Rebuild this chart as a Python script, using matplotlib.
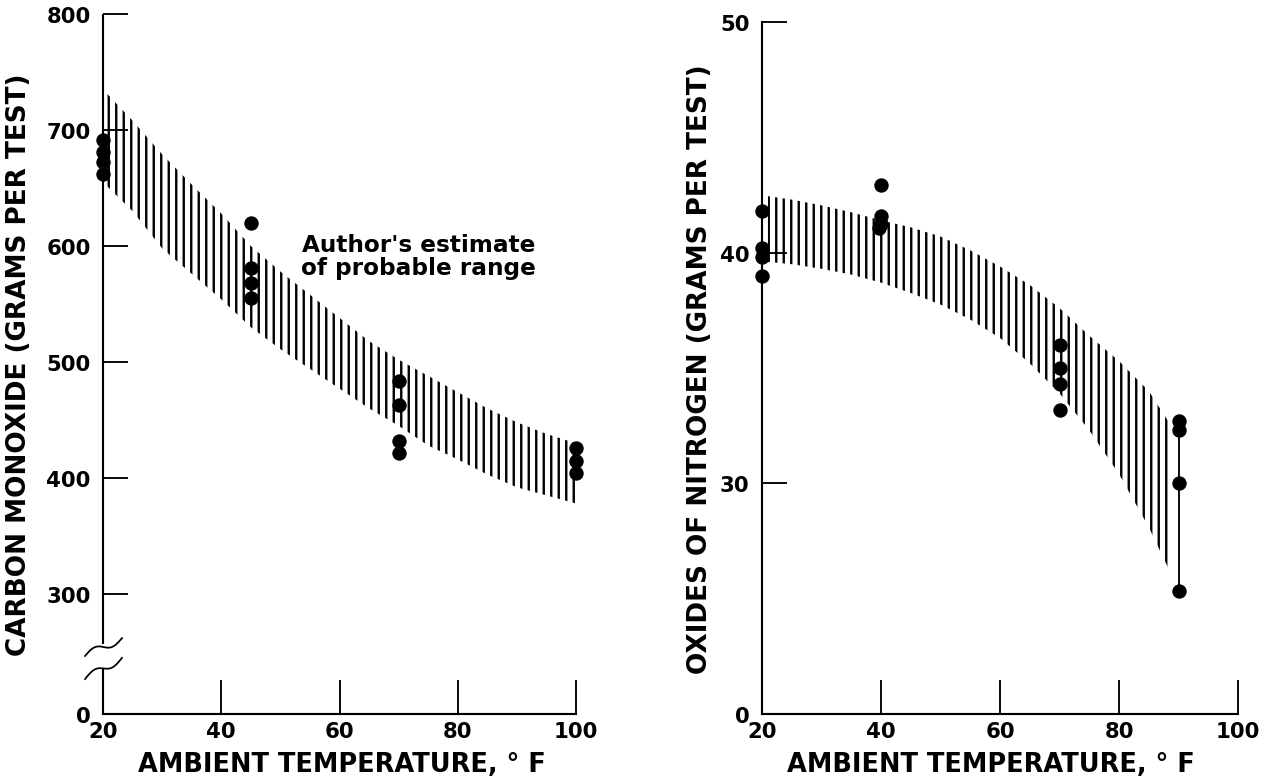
import numpy as np
import matplotlib
matplotlib.use("Agg")
import matplotlib.pyplot as plt
from matplotlib.transforms import blended_transform_factory

# ---------------- data ----------------
x_ticks = [20, 40, 60, 80, 100]
x_ticklabels = ["20", "40", "60", "80", "100"]

# Carbon monoxide panel
co_ticks = [197, 300, 400, 500, 600, 700, 800]
co_ticklabels = ["0", "300", "400", "500", "600", "700", "800"]
co_band_temp = [20, 25, 30, 35, 40, 45, 50, 55, 60, 65, 70, 75, 80, 85, 90, 95, 100]
co_band_upper = [735, 708, 679, 653, 628, 600, 578, 558, 538, 518, 502, 488, 474, 460, 448, 438, 430]
co_band_lower = [655, 630, 598, 576, 554, 530, 511, 494, 477, 460, 445, 428, 416, 403, 392, 385, 378]
co_temp = [20, 20, 20, 20, 45, 45, 45, 45, 70, 70, 70, 70, 100, 100, 100]
co_vals = [691, 681, 672, 662, 620, 581, 568, 555, 484, 463, 432, 422, 426, 415, 404]

# Oxides of nitrogen panel
nox_ticks = [20, 30, 40, 50]
nox_ticklabels = ["0", "30", "40", "50"]
nox_band_temp = [21, 25, 30, 35, 40, 45, 50, 55, 60, 65, 70, 75, 80, 85, 88.5]
nox_band_upper = [42.45, 42.3, 42.05, 41.75, 41.4, 41.1, 40.7, 40.1, 39.4, 38.6, 37.6, 36.4, 35.3, 34.0, 32.6]
nox_band_lower = [39.6, 39.5, 39.3, 39.05, 38.7, 38.25, 37.75, 37.1, 36.3, 35.2, 33.9, 32.3, 30.4, 28.1, 26.2]
nox_temp = [20, 20, 20, 20, 40, 40, 40, 39.6, 70, 70, 70, 70, 90, 90, 90, 90]
nox_vals = [41.8, 40.2, 39.8, 39.0, 42.95, 41.6, 41.25, 41.05, 36.0, 35.0, 34.3, 33.2, 32.7, 32.3, 30.0, 25.35]

xlabel = "AMBIENT TEMPERATURE, \u00b0 F"
co_ylabel = "CARBON MONOXIDE (GRAMS PER TEST)"
nox_ylabel = "OXIDES OF NITROGEN (GRAMS PER TEST)"
annot = "Author's estimate\nof probable range"

# ---------------- style ----------------
DPI = 90
plt.rcParams["font.family"] = ["DejaVu Sans"]
plt.rcParams["hatch.linewidth"] = 1.9
plt.rcParams["hatch.color"] = "black"

fig = plt.figure(figsize=(1277 / DPI, 782 / DPI), dpi=DPI)
ax1 = fig.add_axes([0.0807, 0.0863, 0.3704, 0.8945])
ax2 = fig.add_axes([0.5967, 0.0857, 0.3728, 0.8849])

TICK_FS = 17
XLAB_FS = 20.5
YLAB_FS = 21
SPINE_LW = 1.7


def style_axes(ax):
    for s in ["top", "right"]:
        ax.spines[s].set_visible(False)
    for s in ["left", "bottom"]:
        ax.spines[s].set_linewidth(SPINE_LW)
    ax.tick_params(axis="x", direction="in", length=27, width=1.5, pad=6,
                   labelsize=TICK_FS)
    ax.tick_params(axis="y", direction="in", length=20, width=1.5, pad=10,
                   labelsize=TICK_FS)
    ax.set_xlim(20, 100)
    ax.set_xticks(x_ticks)
    ax.set_xticklabels(x_ticklabels, fontweight="bold")
    ax.xaxis.get_major_ticks()[0].tick1line.set_visible(False)
    ax.set_xlabel(xlabel, fontsize=XLAB_FS, fontweight="bold")


# ---- left: carbon monoxide ----
style_axes(ax1)
ax1.set_ylim(197, 800)
ax1.set_yticks(co_ticks)
ax1.set_yticklabels(co_ticklabels, fontweight="bold")
ax1.yaxis.get_major_ticks()[0].tick1line.set_visible(False)
ax1.fill_between(co_band_temp, co_band_lower, co_band_upper, facecolor="none",
                 edgecolor="black", hatch="||", linewidth=0)
ax1.plot(co_temp, co_vals, "o", color="black", ms=10.5, clip_on=False, zorder=5)
ax1.text(73.3, 591, annot, fontsize=18.5, fontweight="bold", ha="center",
         va="center", linespacing=1.0)
ax1.set_ylabel(co_ylabel, fontsize=YLAB_FS, fontweight="bold")
ax1.yaxis.set_label_coords(-0.150, 0.5)
ax1.xaxis.set_label_coords(0.505, -0.054)

# broken left axis
ax1.spines["left"].set_visible(False)
tr = blended_transform_factory(ax1.transAxes, ax1.transData)
ax1.plot([0, 0], [257, 800], color="black", lw=SPINE_LW, transform=tr,
         clip_on=False, solid_capstyle="butt")
ax1.plot([0, 0], [197, 235], color="black", lw=SPINE_LW, transform=tr,
         clip_on=False, solid_capstyle="butt")
s = np.linspace(0, 1, 60)
for (y0, y1) in [(246.6, 262.0), (226.7, 245.0)]:
    xs = -0.038 + s * 0.078
    ys = y0 + s * (y1 - y0) + 3.5 * np.sin(2 * np.pi * s)
    ax1.plot(xs, ys, color="black", lw=1.4, transform=tr, clip_on=False)

# ---- right: oxides of nitrogen ----
style_axes(ax2)
ax2.set_ylim(20, 50)
ax2.set_yticks(nox_ticks)
ax2.set_yticklabels(nox_ticklabels, fontweight="bold")
ax2.yaxis.get_major_ticks()[0].tick1line.set_visible(False)
ax2.fill_between(nox_band_temp, nox_band_lower, nox_band_upper, facecolor="none",
                 edgecolor="black", hatch="||", linewidth=0)
t90 = [v for t, v in zip(nox_temp, nox_vals) if t == 90]
ax2.vlines(90, min(t90), max(t90), color="black", lw=1.5)
ax2.plot(nox_temp, nox_vals, "o", color="black", ms=10.5, clip_on=False, zorder=5)
ax2.set_ylabel(nox_ylabel, fontsize=YLAB_FS, fontweight="bold")
ax2.yaxis.set_label_coords(-0.103, 0.5)
ax2.xaxis.set_label_coords(0.48, -0.054)

fig.savefig("out.png", dpi=DPI)
